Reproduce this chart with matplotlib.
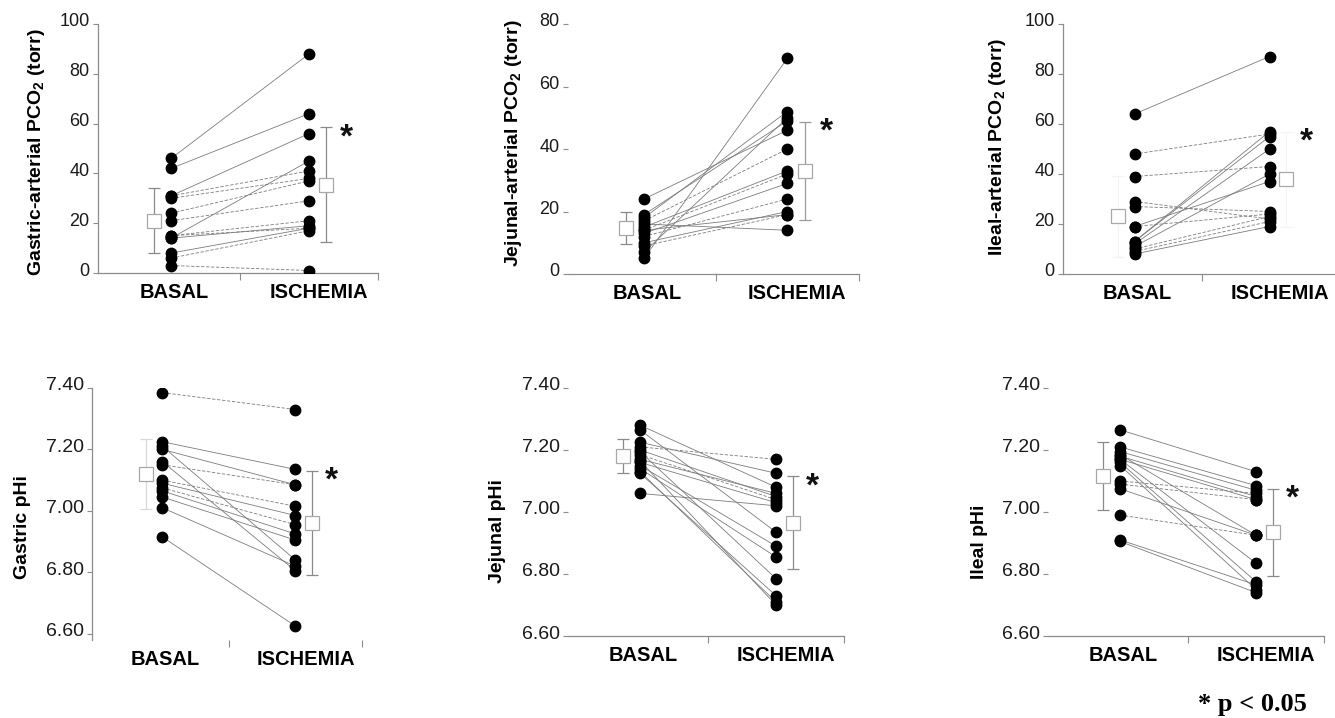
import matplotlib
matplotlib.use("Agg")
import matplotlib.pyplot as plt
from matplotlib.transforms import ScaledTranslation
import numpy as np

plt.rcParams['font.family'] = ['Liberation Sans', 'DejaVu Sans']
plt.rcParams['mathtext.default'] = 'regular'

categories = ["BASAL", "ISCHEMIA"]

# ---- Gastric-arterial PCO2 (torr)
gastric_pco2_basal = [46, 42, 31, 31, 30, 24, 21, 15, 14, 14, 15, 8, 6, 3]
gastric_pco2_ischemia = [88, 64, 56, 41, 38, 37, 29, 21, 45, 19, 18, 18, 17, 1]
gastric_pco2_mean = [21, 35.5]
gastric_pco2_sd = [13, 23]

# ---- Jejunal-arterial PCO2 (torr)
jejunal_pco2_basal = [5, 7, 24, 18, 19, 17, 15, 14, 13, 12, 10, 9, 14, 16]
jejunal_pco2_ischemia = [69, 50, 46, 52, 49, 40, 33, 32, 29, 24, 20, 19, 19, 14]
jejunal_pco2_mean = [14.7, 33]
jejunal_pco2_sd = [5.1, 15.7]

# ---- Ileal-arterial PCO2 (torr)
ileal_pco2_basal = [64, 48, 39, 29, 27, 19, 19, 13, 13, 12, 11, 10, 9, 8]
ileal_pco2_ischemia = [87, 56, 43, 22, 25, 37, 24, 57, 55, 50, 40, 23, 21, 19]
ileal_pco2_mean = [23.2, 38]
ileal_pco2_sd = [16.2, 19]

# ---- Gastric pHi
gastric_phi_basal = [7.385, 7.225, 7.20, 7.15, 7.21, 7.16, 7.10, 7.09, 7.075, 7.065, 7.045, 7.01, 6.915]
gastric_phi_ischemia = [7.33, 7.135, 7.085, 7.085, 6.84, 6.805, 7.015, 6.985, 6.955, 6.925, 6.905, 6.82, 6.625]
gastric_phi_mean = [7.12, 6.96]
gastric_phi_sd = [0.115, 0.17]

# ---- Jejunal pHi
jejunal_phi_basal = [7.28, 7.265, 7.21, 7.225, 7.20, 7.185, 7.17, 7.16, 7.15, 7.14, 7.13, 7.125, 7.195, 7.165, 7.06]
jejunal_phi_ischemia = [7.08, 6.935, 7.17, 7.125, 7.05, 7.04, 7.06, 7.03, 6.89, 6.855, 6.71, 6.73, 6.785, 6.70, 7.02]
jejunal_phi_mean = [7.18, 6.965]
jejunal_phi_sd = [0.055, 0.15]

# ---- Ileal pHi
ileal_phi_basal = [7.265, 7.21, 7.195, 7.18, 7.17, 7.16, 7.15, 7.185, 7.17, 7.10, 7.09, 7.075, 6.99, 6.91, 6.905]
ileal_phi_ischemia = [7.13, 7.085, 7.07, 7.05, 7.04, 6.775, 6.75, 6.925, 6.835, 7.06, 7.04, 6.925, 6.925, 6.765, 6.74]
ileal_phi_mean = [7.115, 6.935]
ileal_phi_sd = [0.11, 0.14]

pco2_ticks = [0, 20, 40, 60, 80, 100]
jej_pco2_ticks = [0, 20, 40, 60, 80]
phi_ticks = [6.60, 6.80, 7.00, 7.20, 7.40]

# ---- line styles (per subject, style only)
gastric_pco2_dash = [0, 0, 0, 1, 1, 1, 1, 1, 0, 0, 1, 0, 1, 1]
jejunal_pco2_dash = [0, 0, 0, 0, 0, 1, 0, 1, 0, 1, 0, 1, 0, 0]
ileal_pco2_dash = [0, 1, 1, 1, 1, 0, 1, 0, 0, 0, 0, 1, 1, 0]
gastric_phi_dash = [1, 0, 0, 1, 0, 0, 1, 0, 1, 0, 0, 0, 0]
jejunal_phi_dash = [0, 0, 1, 0, 0, 1, 0, 0, 0, 0, 0, 0, 0, 0, 0]
ileal_phi_dash = [0, 0, 0, 0, 0, 0, 0, 0, 0, 1, 1, 0, 1, 0, 0]

W, H = 1335, 718
fig = plt.figure(figsize=(W / 100, H / 100), dpi=100)


def rect(l, t, r, b):
    return [l / W, 1 - b / H, (r - l) / W, (b - t) / H]


panels = [
    dict(basal=gastric_pco2_basal, isch=gastric_pco2_ischemia, mean=gastric_pco2_mean, sd=gastric_pco2_sd,
         dash=gastric_pco2_dash, ylim=(0, 100), ticks=pco2_ticks, fmt="{:.0f}",
         ylabel="Gastric-arterial PCO$_2$ (torr)", box=(98, 24, 378, 273), lab=(37, 152),
         left=True, bottom=True, bar=["#8a8a8a", "#8a8a8a"], cap=["#8a8a8a", "#8a8a8a"], tfs=13),
    dict(basal=jejunal_pco2_basal, isch=jejunal_pco2_ischemia, mean=jejunal_pco2_mean, sd=jejunal_pco2_sd,
         dash=jejunal_pco2_dash, ylim=(0, 80), ticks=jej_pco2_ticks, fmt="{:.0f}",
         ylabel="Jejunal-arterial PCO$_2$ (torr)", box=(568, 24, 859, 274), lab=(513, 143),
         left=False, bottom=True, bar=["#8a8a8a", "#9a9a9a"], cap=["#8a8a8a", "#9a9a9a"], tfs=13),
    dict(basal=ileal_pco2_basal, isch=ileal_pco2_ischemia, mean=ileal_pco2_mean, sd=ileal_pco2_sd,
         dash=ileal_pco2_dash, ylim=(0, 100), ticks=pco2_ticks, fmt="{:.0f}",
         ylabel="Ileal-arterial PCO$_2$ (torr)", box=(1063, 24, 1337, 274), lab=(998, 147),
         left=True, bottom=True, bar=["#f4f4f4", "#f4f4f4"], cap=["#777777", "#777777"], tfs=13),
    dict(basal=gastric_phi_basal, isch=gastric_phi_ischemia, mean=gastric_phi_mean, sd=gastric_phi_sd,
         dash=gastric_phi_dash, ylim=(6.58, 7.40), ticks=phi_ticks, fmt="{:.2f}",
         ylabel="Gastric pHi", box=(92, 388, 362, 640), lab=(23, 527),
         left=True, bottom=False, bar=["#d8d8d8", "#8a8a8a"], cap=["#8a8a8a", "#8a8a8a"], tfs=14),
    dict(basal=jejunal_phi_basal, isch=jejunal_phi_ischemia, mean=jejunal_phi_mean, sd=jejunal_phi_sd,
         dash=jejunal_phi_dash, ylim=(6.60, 7.40), ticks=phi_ticks, fmt="{:.2f}",
         ylabel="Jejunal pHi", box=(568, 388, 844, 636), lab=(497, 531),
         left=False, bottom=True, bar=["#8a8a8a", "#8a8a8a"], cap=["#8a8a8a", "#8a8a8a"], tfs=14),
    dict(basal=ileal_phi_basal, isch=ileal_phi_ischemia, mean=ileal_phi_mean, sd=ileal_phi_sd,
         dash=ileal_phi_dash, ylim=(6.60, 7.40), ticks=phi_ticks, fmt="{:.2f}",
         ylabel="Ileal pHi", box=(1048, 388, 1324, 636), lab=(979, 542),
         left=False, bottom=True, bar=["#8a8a8a", "#8a8a8a"], cap=["#8a8a8a", "#8a8a8a"], tfs=14),
]

XLIM = (-0.53, 1.5)
MEAN_OFF = 0.125
STAR_OFF = 0.27
STAR_FS = 24
SPINE = "#8c8c8c"

for p in panels:
    l, t, r, b = p["box"]
    ax = fig.add_axes(rect(l, t, r, b))
    ax.set_xlim(*XLIM)
    ax.set_ylim(*p["ylim"])

    x = np.arange(len(categories))
    # connecting lines
    for bv, iv, d in zip(p["basal"], p["isch"], p["dash"]):
        ax.plot(x, [bv, iv], color="#7c7c7c", lw=0.6,
                ls=(0, (4, 2)) if d else "-", zorder=2)
    # points
    ax.plot(np.full(len(p["basal"]), x[0]), p["basal"], "o", color="black", ms=7.5, zorder=4)
    ax.plot(np.full(len(p["isch"]), x[1]), p["isch"], "o", color="black", ms=7.5, zorder=4)

    # mean +- SD
    offs = [-MEAN_OFF, MEAN_OFF]
    for k in range(2):
        _, caps, bars = ax.errorbar([x[k] + offs[k]], [p["mean"][k]], yerr=[p["sd"][k]], fmt="none",
                                    ecolor=p["bar"][k], elinewidth=0.9, capsize=4.5, capthick=0.9, zorder=3)
        for c in caps:
            c.set_color(p["cap"][k])
        ax.plot([x[k] + offs[k]], [p["mean"][k]], "s", ms=9.5, mfc="white", mec="#a8a8a8",
                mew=0.9, zorder=5)

    # significance star at top of ischemia SD
    ax.text(x[1] + STAR_OFF, p["mean"][1] + p["sd"][1], "*", fontsize=STAR_FS, fontweight="bold",
            ha="center", va="baseline", color="#111111",
            transform=ax.transData + ScaledTranslation(0, -0.57 * STAR_FS / 72, fig.dpi_scale_trans),
            zorder=6)

    # spines
    for s in ["top", "right"]:
        ax.spines[s].set_visible(False)
    ax.spines["left"].set_visible(p["left"])
    ax.spines["bottom"].set_visible(p["bottom"])
    ax.spines["left"].set_color(SPINE)
    ax.spines["bottom"].set_color(SPINE)
    ax.spines["left"].set_linewidth(0.9)
    ax.spines["bottom"].set_linewidth(0.9)

    # y ticks
    ax.set_yticks(p["ticks"])
    ax.set_yticklabels([p["fmt"].format(v) for v in p["ticks"]], fontsize=p["tfs"], color="#1a1a1a")
    ax.tick_params(axis="y", length=3.5, width=0.8, color=SPINE, pad=2.5)
    for lab in ax.get_yticklabels():
        lab.set_transform(lab.get_transform() + ScaledTranslation(0, 4 / 100, fig.dpi_scale_trans))

    # x ticks
    ax.set_xticks(x)
    ax.set_xticklabels(categories, fontsize=14.5, fontweight="bold")
    ax.set_xticks([0.5, 1.5], minor=True)
    ax.tick_params(axis="x", which="major", length=0, pad=7)
    ax.tick_params(axis="x", which="minor", length=5, width=0.8, color=SPINE)
    for lab, dx in zip(ax.get_xticklabels(), [3, 10]):
        lab.set_transform(lab.get_transform() + ScaledTranslation(dx / 100, 0, fig.dpi_scale_trans))

    # y label
    ax.set_ylabel(p["ylabel"], fontsize=14, fontweight="bold")
    lx, ly = p["lab"]
    ax.yaxis.set_label_coords((lx - l) / (r - l), (b - ly) / (b - t))
    ax.yaxis.label.set_va("center")

fig.text(1252 / W, 1 - 705 / H, "* p < 0.05", family="Liberation Serif", fontsize=19,
         fontweight="bold", ha="center", va="center")

fig.savefig("out.png", dpi=100)
